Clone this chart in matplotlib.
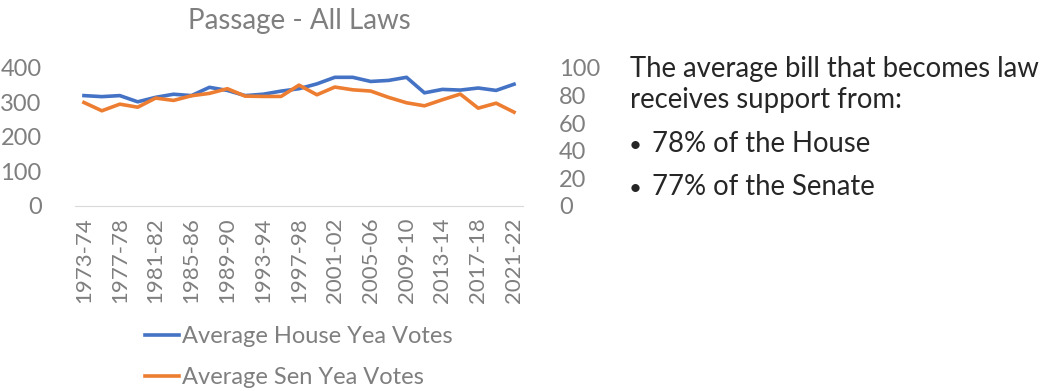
import numpy as np
import matplotlib.pyplot as plt

plt.rcParams['font.family'] = ['Lato', 'DejaVu Sans']

# two-year congress sessions
sessions = [f"{y}-{str(y + 1)[-2:]}" for y in range(1973, 2022, 2)]
house_yea = [320, 317, 320, 302, 315, 324, 320, 344, 335, 320, 324, 333, 340,
             354, 373, 373, 361, 364, 373, 328, 338, 336, 342, 335, 353]
senate_yea = [75.0, 69.0, 73.8, 71.6, 78.2, 76.5, 79.9, 81.6, 85.0, 79.6, 79.4, 79.4, 87.6,
              80.6, 86.2, 84.2, 83.3, 78.7, 74.8, 72.6, 77.0, 81.1, 70.9, 74.5, 68.0]
house_ticks = [0, 100, 200, 300, 400]
senate_ticks = [0, 20, 40, 60, 80, 100]
summary = ["The average bill that becomes law", "receives support from:",
           "78% of the House", "77% of the Senate"]

gray = '#7f7f7f'
blue = '#4472C4'
orange = '#ED7D31'

fig = plt.figure(figsize=(10.45, 3.91), dpi=100)
W, H = 1045, 391
ax = fig.add_axes([75 / W, 1 - 206 / H, 448 / W, 138 / H])
ax2 = ax.twinx()

x = np.arange(len(sessions))
l1, = ax.plot(x, house_yea, color=blue, lw=2.6, solid_joinstyle='round')
l2, = ax2.plot(x, senate_yea, color=orange, lw=2.6, solid_joinstyle='round')

ax.set_xlim(-0.5, len(sessions) - 0.5)
ax.set_ylim(0, 400)
ax2.set_ylim(0, 100)
ax.set_yticks(house_ticks)
ax2.set_yticks(senate_ticks)
ax.set_xticks(x[::2])
ax.set_xticklabels(sessions[::2], rotation=90)

for a in (ax, ax2):
    for s in a.spines.values():
        s.set_visible(False)
    a.tick_params(length=0, colors=gray, labelsize=17)
ax.tick_params(axis='x', labelsize=16)
ax.spines['bottom'].set_visible(True)
ax.spines['bottom'].set_color('#d9d9d9')
ax.tick_params(axis='y', pad=24)
ax2.tick_params(axis='y', pad=26)
ax.tick_params(axis='x', pad=8)

ax.set_title('Passage - All Laws', color=gray, fontsize=20, pad=28)

fig.legend([l1, l2], ['Average House Yea Votes', 'Average Sen Yea Votes'],
           loc='upper left', bbox_to_anchor=(145 / W, 1 - 326 / H), frameon=False,
           fontsize=17, labelcolor=gray, handlelength=1.45, handletextpad=0.1,
           labelspacing=0.85, borderaxespad=0, borderpad=0)

tc = '#262626'
fig.text(630 / W, 1 - 77 / H, summary[0], fontsize=19.8, color=tc, va='baseline')
fig.text(630 / W, 1 - 108 / H, summary[1], fontsize=19.8, color=tc, va='baseline')
for yb, txt in [(152, summary[2]), (195, summary[3])]:
    fig.text(629 / W, 1 - yb / H, '\u2022', fontsize=16, color=tc, va='baseline')
    fig.text(652 / W, 1 - yb / H, txt, fontsize=19.8, color=tc, va='baseline')

fig.savefig('out.png', dpi=100)
